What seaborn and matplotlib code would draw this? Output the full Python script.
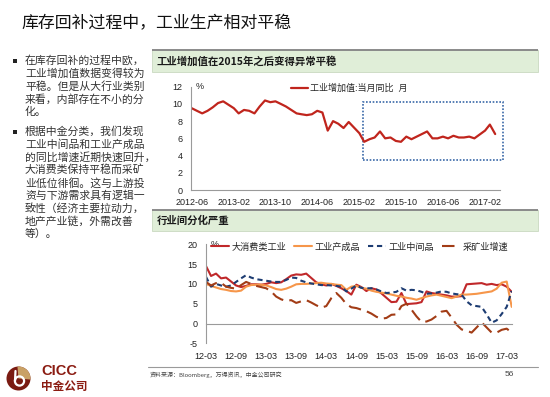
import matplotlib
matplotlib.use('Agg')
import matplotlib.pyplot as plt
import matplotlib.dates as mdates
from matplotlib.patches import Rectangle, Circle, Wedge
import numpy as np
import pandas as pd
import seaborn as sns

# ---- data ----
title = '库存回补过程中，工业生产相对平稳'
bullet1 = ['在库存回补的过程中欧，', '工业增加值数据变得较为', '平稳。但是从大行业类别',
           '来看，内部存在不小的分', '化。']
bullet2 = ['根据中金分类，我们发现', '工业中间品和工业产成品', '的同比增速近期快速回升，',
           '大消费类保持平稳而采矿', '业低位徘徊。这与上游投', '资与下游需求具有逻辑一',
           '致性（经济主要拉动力，', '地产产业链，外需改善', '等）。']

# industrial value added, monthly yoy (%)
iva_months = ['2012-06', '2012-07', '2012-08', '2012-09', '2012-10', '2012-11', '2012-12',
              '2013-02', '2013-03', '2013-04', '2013-05', '2013-06', '2013-07', '2013-08',
              '2013-09', '2013-10', '2013-11', '2013-12',
              '2014-02', '2014-03', '2014-04', '2014-05', '2014-06', '2014-07', '2014-08',
              '2014-09', '2014-10', '2014-11', '2014-12',
              '2015-02', '2015-03', '2015-04', '2015-05', '2015-06', '2015-07', '2015-08',
              '2015-09', '2015-10', '2015-11', '2015-12',
              '2016-03', '2016-04', '2016-05', '2016-06', '2016-07', '2016-08', '2016-09',
              '2016-10', '2016-11', '2016-12',
              '2017-02', '2017-03', '2017-04']
iva_values = [9.5, 9.2, 8.9, 9.2, 9.6, 10.1, 10.3,
              9.5, 8.9, 9.3, 9.2, 8.9, 9.7, 10.4,
              10.2, 10.3, 10.0, 9.7,
              8.9, 8.8, 8.7, 8.8, 9.2, 9.0, 6.9,
              8.0, 7.7, 7.2, 7.9,
              6.6, 5.6, 5.9, 6.1, 6.8, 6.0, 6.1,
              5.7, 5.6, 6.2, 5.9,
              6.8, 6.0, 6.0, 6.2, 6.0, 6.3, 6.1,
              6.1, 6.2, 6.0,
              6.9, 7.6, 6.5]
iva_ticks = ['2012-06', '2013-02', '2013-10', '2014-06', '2015-02', '2015-10', '2016-06', '2017-02']
highlight = ('2015-02-20', '2017-05-15', 3.5, 10.2)

# sector breakdown, monthly from 12-03 to 17-04
sector_labels = ['12-03', '12-09', '13-03', '13-09', '14-03', '14-09', '15-03', '15-09',
                 '16-03', '16-09', '17-03']
consumer = [14.5, 12.0, 12.6, 11.4, 11.6, 10.6, 9.6, 9.2, 9.5, 9.9, 9.9, 9.8, 10.0, 10.4, 10.2,
            10.4, 11.2, 12.1, 12.4, 12.3, 12.6, 11.5, 10.4, 9.9, 9.6, 10.0, 9.5, 8.9, 8.2, 7.3,
            9.8, 9.2, 8.2, 8.9, 8.6, 7.6, 6.5, 5.4, 5.5, 7.7, 4.9, 5.0, 5.1, 5.4, 8.1, 7.7,
            7.5, 7.3, 7.1, 6.8, 6.8, 6.9, 9.9, 10.0, 10.1, 10.2, 9.8, 10.0, 9.7, 9.9, 9.3, 8.0]
finished = [10.0, 9.5, 9.1, 8.7, 8.5, 8.2, 8.1, 8.3, 9.3, 9.7, 9.8, 9.8, 9.6, 9.2, 8.7,
            8.5, 8.8, 9.3, 9.9, 10.0, 10.0, 10.1, 10.2, 10.3, 10.1, 10.0, 9.8, 9.7, 8.5, 9.3,
            9.5, 9.0, 8.8, 8.3, 8.0, 7.8, 7.6, 7.3, 7.0, 6.8, 6.5, 6.3, 6.0, 6.4, 6.8, 7.1,
            7.3, 7.0, 6.7, 6.4, 6.8, 7.3, 7.3, 7.4, 7.5, 7.7, 7.9, 8.1, 8.8, 10.3, 10.6, 4.2]
intermediate = [11.8, 9.3, 10.0, 9.6, 9.3, 9.6, 10.5, 11.4, 12.2, 11.6, 11.2, 11.0, 10.8, 10.6,
                10.5, 10.5, 11.0, 11.6, 11.5, 10.8, 10.4, 10.1, 9.9, 9.7, 9.7, 9.6, 9.5, 9.3,
                8.1, 8.8, 9.6, 9.0, 8.9, 8.9, 8.6, 8.1, 7.7, 7.8, 8.0, 8.9, 8.3, 8.5, 8.4, 8.0,
                7.5, 7.6, 7.8, 8.1, 8.0, 7.6, 7.4, 7.3, 5.6, 4.6, 4.4, 4.2, 2.3, 0.2, 0.8, 2.4,
                4.2, 8.2]
mining = [10.5, 9.6, 10.2, 10.3, 9.3, 9.0, 8.8, 9.7, 10.5, 10.0, 9.5, 9.2, 8.9, 8.1, 6.8,
          6.1, 5.7, 5.9, 5.2, 5.6, 5.9, 5.3, 4.6, 4.0, 4.4, 6.4, 7.7, 6.5, 4.9, 4.1,
          3.9, 3.5, 3.1, 2.5, 1.7, 1.2, 1.4, 2.2, 2.3, 4.4, 5.0, 3.5, 1.8, 0.4, 0.5, 1.0,
          1.9, 3.0, 3.2, 1.5, -0.3, -1.5, -1.8, -2.3, -1.0, 0.3, -1.0, -2.3, -2.3, -1.6,
          -1.3, -2.3]
series_names = ['大消费类工业', '工业产成品', '工业中间品', '采矿业增速']

# ---- style ----
sns.set_theme(style='white')
plt.rcParams['font.family'] = ['Liberation Sans', 'Noto Sans CJK SC', 'DejaVu Sans']
plt.rcParams['axes.unicode_minus'] = False

W, H = 550, 397
fig = plt.figure(figsize=(W / 100, H / 100), dpi=100)
fig.patch.set_facecolor('white')

# overlay for slide decorations, in pixel coordinates
deco = fig.add_axes([0, 0, 1, 1], zorder=0)
deco.set_xlim(0, W)
deco.set_ylim(H, 0)
deco.axis('off')

cjk = ['Noto Sans CJK SC', 'DejaVu Sans']
deco.text(21, 23, title, fontsize=12.2, family=cjk, color='#111111', va='center')

txt = '#333333'
for i, line in enumerate(bullet1):
    deco.text(25, 60.7 + 12.8 * i, line, fontsize=7.8, family=cjk, color=txt, va='center')
for i, line in enumerate(bullet2):
    deco.text(25, 131.7 + 12.8 * i, line, fontsize=7.8, family=cjk, color=txt, va='center')
for yb in (60.7, 131.7):
    deco.add_patch(Rectangle((12.5, yb - 2.2), 4.2, 4.2, color='#222222', lw=0))

# section header bands
for y0, label in ((50, '工业增加值在2015年之后变得异常平稳'), (209.5, '行业间分化严重')):
    deco.add_patch(Rectangle((152, y0), 386, 21.5, facecolor='#e0eed8', edgecolor='#c9d9c1', lw=0.6))
    deco.plot([152, 538], [y0, y0], color='#8a8a8a', lw=1.4, solid_capstyle='butt')
    deco.text(157, y0 + 11, label, fontsize=7.5, fontweight='bold', family=cjk,
              color='#1a1a1a', va='center')

# footer
deco.plot([148, 538], [367, 367], color='#9a9a9a', lw=0.8)
deco.text(150, 375, '资料来源：Bloomberg，万得资讯，中金公司研究', fontsize=4.3, family=cjk,
          color='#444444', va='center')
deco.text(505, 374.5, '56', fontsize=6, color='#444444', va='center')

# logo
brown_logo = '#7a1b12'
deco.add_patch(Circle((18.5, 378.5), 12, color=brown_logo, lw=0))
deco.add_patch(Wedge((18.5, 378.5), 12, -95, 5, color='#c9a165', lw=0))
deco.add_patch(Circle((19.5, 381), 4.6, facecolor='none', edgecolor='white', lw=1.6))
deco.plot([15, 15.5], [381, 371], color='white', lw=1.6)
deco.text(41, 371, 'CICC', fontsize=10.5, fontweight='bold', color='#8b1c12', va='center')
deco.text(41, 386, '中金公司', fontsize=8.4, fontweight='bold', family=cjk, color='#8b1c12',
          va='center')

gray = '#9a9a9a'


def style_axes(ax):
    for s in ('top', 'right'):
        ax.spines[s].set_visible(False)
    for s in ('left', 'bottom'):
        ax.spines[s].set_color(gray)
        ax.spines[s].set_linewidth(0.8)
    ax.tick_params(axis='both', which='major', length=2.5, width=0.7, color=gray,
                   labelsize=6.5, labelcolor='#222222', direction='out')
    ax.set_facecolor('none')
    ax.grid(False)
    ax.set_xlabel('')
    ax.set_ylabel('')


# ---- top chart ----
ax1 = fig.add_axes([190.7 / W, 1 - 190 / H, 309.3 / W, 103.3 / H], zorder=2)
df1 = pd.DataFrame({'date': pd.to_datetime(iva_months), 'value': iva_values})
sns.lineplot(data=df1, x='date', y='value', ax=ax1, color='#c0251d', lw=1.6,
             label='工业增加值:当月同比  月')
ax1.set_ylim(0, 12)
ax1.set_yticks(range(0, 13, 2))
ax1.set_xlim(pd.Timestamp('2012-05-26'), pd.Timestamp('2017-04-29'))
ax1.set_xticks(pd.to_datetime(iva_ticks))
ax1.xaxis.set_major_formatter(mdates.DateFormatter('%Y-%m'))
style_axes(ax1)
ax1.text(0.015, 1.0, '%', transform=ax1.transAxes, fontsize=6.5, va='center', color='#222222')
ax1.add_patch(Rectangle((mdates.date2num(pd.Timestamp(highlight[0])), highlight[2]),
                        mdates.date2num(pd.Timestamp(highlight[1])) - mdates.date2num(pd.Timestamp(highlight[0])),
                        highlight[3] - highlight[2], fill=False, edgecolor='#3a68a8',
                        lw=1.2, linestyle=(0, (1, 1)), clip_on=False))
ax1.legend(loc='center left', bbox_to_anchor=(286 / W, 1 - 88.5 / H), bbox_transform=fig.transFigure,
           frameon=False, fontsize=6.5, handlelength=1.9, handletextpad=0.3, borderpad=0)

# ---- bottom chart ----
ax2 = fig.add_axes([206 / W, 1 - 343.3 / H, 305.7 / W, 99 / H], zorder=2)
months = np.arange(len(consumer))
df2 = pd.DataFrame({'m': months, series_names[0]: consumer, series_names[1]: finished,
                    series_names[2]: intermediate, series_names[3]: mining})
colors = ['#c0282a', '#f6964a', '#1d3c72', '#a23c16']
styles = ['-', '-', (0, (2.5, 1.8)), (0, (6, 3))]
for name, c, ls in zip(series_names, colors, styles):
    sns.lineplot(data=df2, x='m', y=name, ax=ax2, color=c, lw=1.5, linestyle=ls, label=name)
ax2.set_ylim(-5, 20)
ax2.set_yticks(range(-5, 21, 5))
ax2.set_xlim(0, 61)
ax2.set_xticks(range(0, 61, 6))
ax2.set_xticklabels(sector_labels)
style_axes(ax2)
ax2.spines['bottom'].set_position(('data', 0))
ax2.tick_params(axis='x', pad=18)
ax2.text(0.015, 1.0, '%', transform=ax2.transAxes, fontsize=6.5, va='center', color='#222222')
ax2.legend(loc='center left', bbox_to_anchor=(206 / W, 1 - 247 / H), bbox_transform=fig.transFigure,
           ncol=4, frameon=False, fontsize=6.6, handlelength=2.0, handletextpad=0.3,
           columnspacing=0.8, borderpad=0)

fig.savefig('out.png', dpi=100)
